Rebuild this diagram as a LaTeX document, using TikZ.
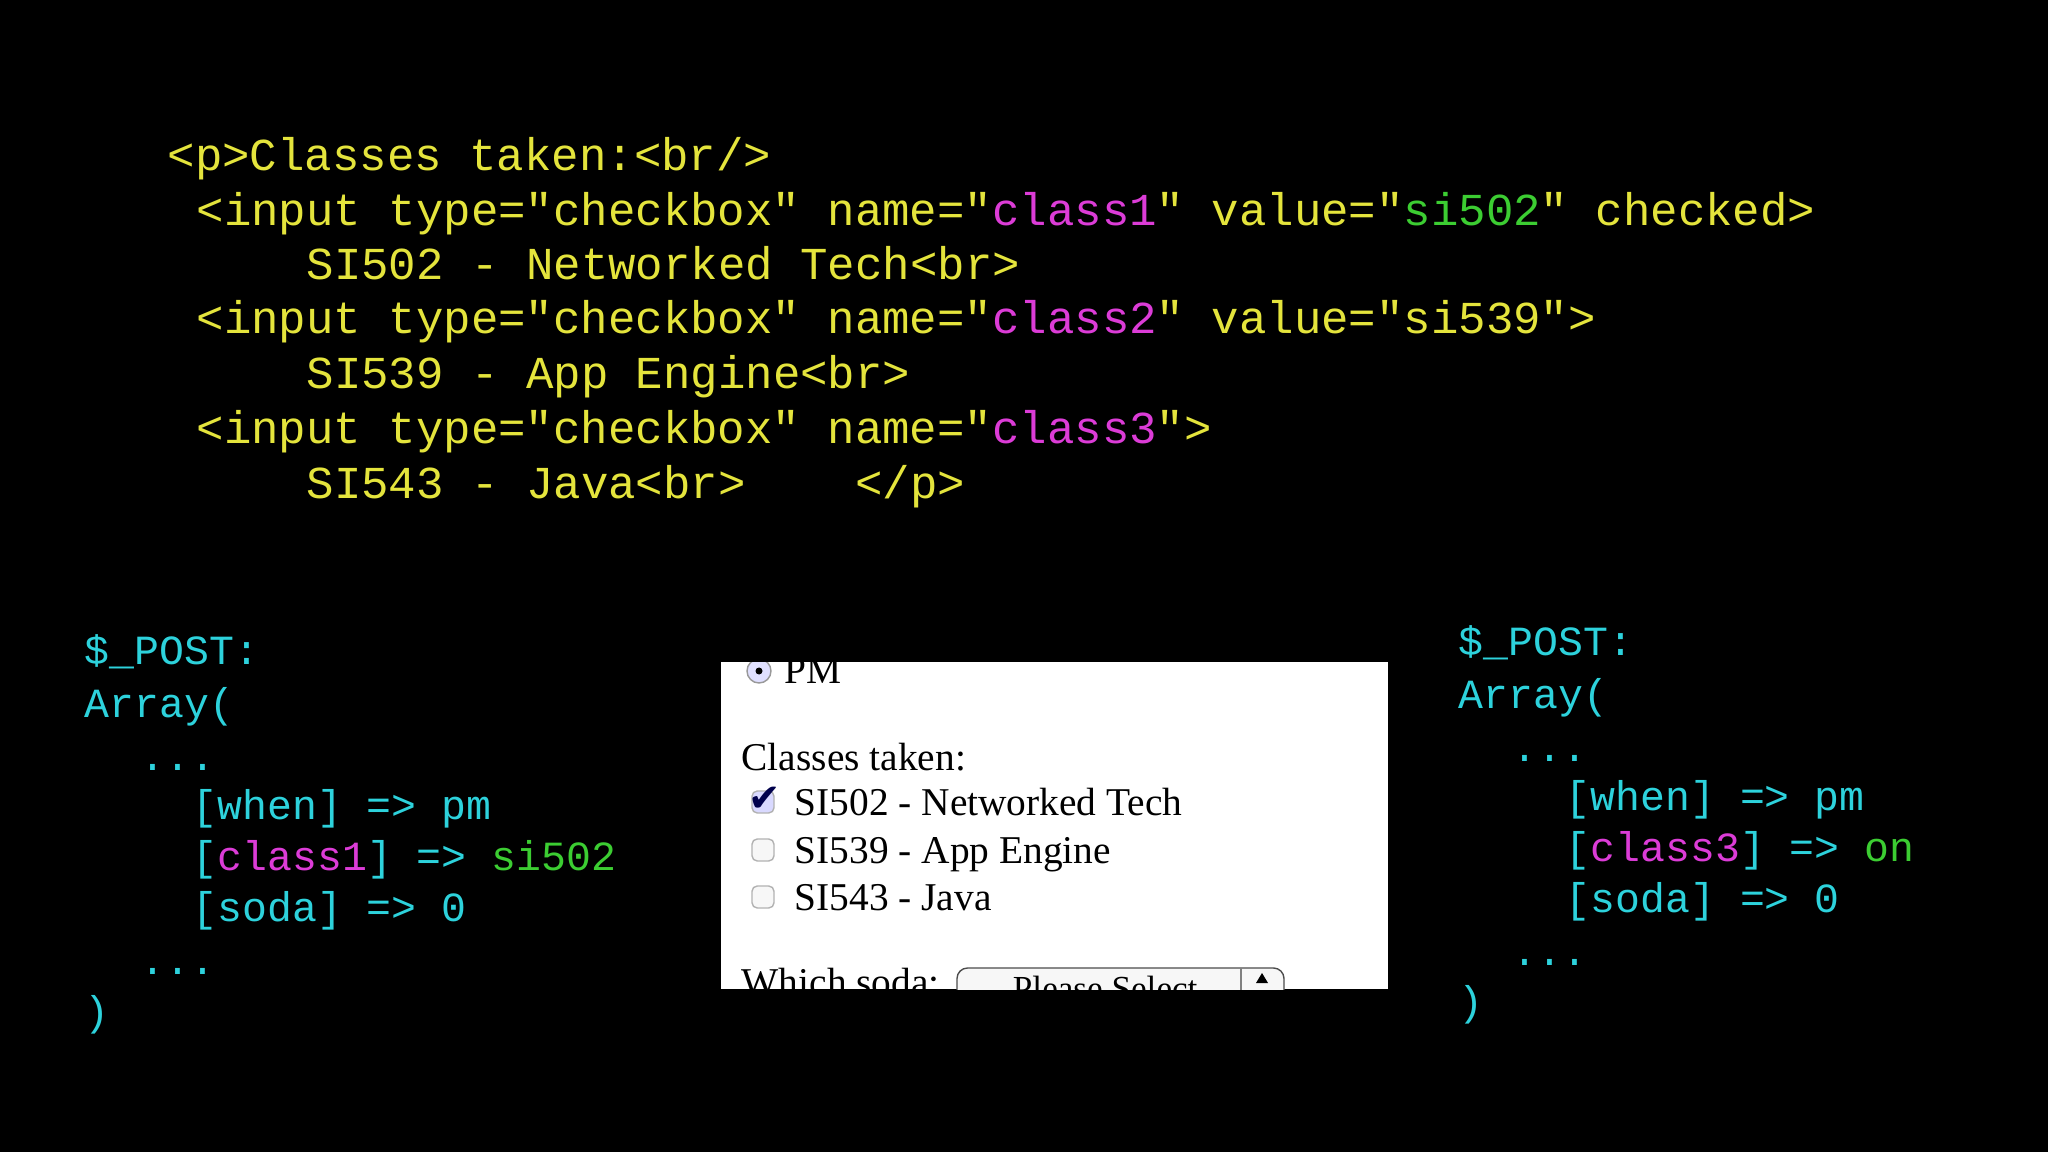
\documentclass[tikz,border=0pt]{standalone}
\usepackage{fontspec}
\usepackage{xcolor}
\newfontfamily\codefont{Liberation Mono}
\newfontfamily\formfont{Liberation Serif}
\newfontfamily\symfont{DejaVu Sans}
\definecolor{codeyellow}{RGB}{228,228,60}
\definecolor{codemagenta}{RGB}{220,60,215}
\definecolor{codegreen}{RGB}{60,205,50}
\definecolor{codecyan}{RGB}{45,210,220}
\newcommand{\mg}[1]{\textcolor{codemagenta}{#1}}
\newcommand{\gr}[1]{\textcolor{codegreen}{#1}}

\begin{document}
\begin{tikzpicture}[
    x=0.01cm, y=-0.01cm,
    html/.style={anchor=base west, inner sep=0pt, text=codeyellow, font=\codefont\fontsize{13}{15}\selectfont},
    post/.style={anchor=base west, inner sep=0pt, text=codecyan, font=\codefont\fontsize{11.8}{14}\selectfont},
    form/.style={anchor=base west, inner sep=0pt, text=black, font=\formfont\fontsize{11.2}{13}\selectfont},
    tickbox/.style={draw=black!30, fill=black!3, rounded corners=1.5pt, minimum size=0.22cm, inner sep=0pt}
]

% Background
\fill[black] (0,0) rectangle (2048,1152);

% HTML source
\node[html] (h1) at (167,171) {<p>Classes taken:<br/>};
\node[html] (h2) at (196,226) {<input type="checkbox" name="\mg{class1}" value="\gr{si502}" checked>};
\node[html] (h3) at (306,280) {SI502 - Networked Tech<br>};
\node[html] (h4) at (196,334) {<input type="checkbox" name="\mg{class2}" value="si539">};
\node[html] (h5) at (306,389) {SI539 - App Engine<br>};
\node[html] (h6) at (196,444) {<input type="checkbox" name="\mg{class3}">};
\node[html] (h7) at (306,499) {SI543 - Java<br>\ \ \ \ </p>};

% Left $_POST
\node[post] (lpost) at (84,665) {\$\_POST:};
\node[post] (larray) at (84,717) {Array(};
\node[post] (ldots1) at (140,770) {...};
\node[post] (lwhen) at (192,819) {[when] => pm};
\node[post] (lclass) at (192,870) {[\mg{class1}] => \gr{si502}};
\node[post] (lsoda) at (192,921) {[soda] => 0};
\node[post] (ldots2) at (140,974) {...};
\node[post] (lend) at (84,1025) {)};

% Right $_POST
\node[post] (rpost) at (1458,656) {\$\_POST:};
\node[post] (rarray) at (1458,708) {Array(};
\node[post] (rdots1) at (1512,761) {...};
\node[post] (rwhen) at (1565,810) {[when] => pm};
\node[post] (rclass) at (1565,861) {[\mg{class3}] => \gr{on}};
\node[post] (rsoda) at (1565,912) {[soda] => 0};
\node[post] (rdots2) at (1512,965) {...};
\node[post] (rend) at (1458,1015) {)};

% Browser form
\fill[white] (721,662) rectangle (1388,989);
\begin{scope}
  \clip (721,662) rectangle (1388,989);
  \node[circle, draw=black!40, fill=blue!12, minimum size=0.24cm, inner sep=0pt] (radio) at (759,671) {};
  \fill[black] (radio) circle (0.035cm);
  \node[form] (pm) at (784,683) {PM};
  \node[form] (classes) at (741,770) {Classes taken:};
  \node[tickbox, fill=blue!15] (c1) at (763,802) {};
  \node[anchor=center, inner sep=0pt, text=blue!30!black, font=\symfont\fontsize{11}{11}\selectfont] at ([xshift=0.02cm,yshift=0.03cm]c1) {\textbf{✔}};
  \node[form] (s1) at (794,815) {SI502 - Networked Tech};
  \node[tickbox] (c2) at (763,850) {};
  \node[form] (s2) at (794,863) {SI539 - App Engine};
  \node[tickbox] (c3) at (763,897) {};
  \node[form] (s3) at (794,910) {SI543 - Java};
  \node[form] (soda) at (741,995) {Which soda:};
  \draw[black!70, rounded corners=3pt, fill=black!3] (957,968) rectangle (1284,1010);
  \draw[black!50] (1241,968) -- (1241,1010);
  \node[form, font=\formfont\fontsize{10}{12}\selectfont] (sel) at (980,1000) {-- Please Select --};
  \fill[black] (1256,983) -- (1268,983) -- (1262,973) -- cycle;
\end{scope}

\end{tikzpicture}
\end{document}
